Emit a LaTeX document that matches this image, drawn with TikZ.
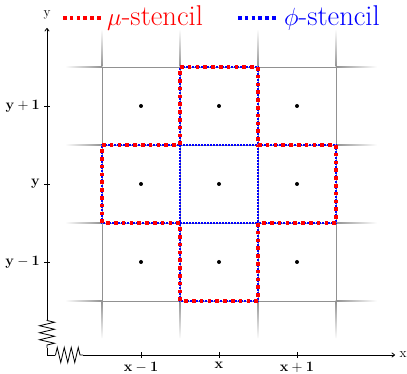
\documentclass[tikz,border=0pt]{standalone}
\usetikzlibrary{decorations.pathmorphing,arrows.meta}
\definecolor{gridgray}{RGB}{145,145,145}
\begin{document}
\begin{tikzpicture}[x=1pt,y=1pt,
  gridline/.style={draw=gridgray,line width=0.8pt},
  mustencil/.style={draw=red,line width=3.6pt,dash pattern=on 3.6pt off 4.2pt},
  phistencil/.style={draw=blue,line width=1.6pt,dash pattern=on 1.6pt off 1.4pt},
  legmu/.style={draw=red,line width=3.8pt,dash pattern=on 3.6pt off 3.2pt},
  legphi/.style={draw=blue,line width=3.8pt,dash pattern=on 3.6pt off 3.2pt},
  axisline/.style={draw=black,line width=0.8pt},
  spring/.style={axisline,decorate,decoration={zigzag,segment length=7pt,amplitude=7.5pt,pre length=0.5pt,post length=0.5pt}},
  ticklabel/.style={inner sep=0pt,font=\fontsize{13.5}{16}\selectfont},
  axislabel/.style={inner sep=0pt,font=\fontsize{13.5}{16}\selectfont},
  legendtext/.style={inner sep=0pt,font=\fontsize{28.6}{32}\selectfont},
  gdot/.style={circle,fill=black,inner sep=0pt,minimum size=4pt}]
\useasboundingbox (0,0) rectangle (407,374);
% faded grid extensions
\foreach \gx in {102,180,258,336}{
  \shade[bottom color=gridgray,top color=white] (\gx-0.4,307) rectangle (\gx+0.4,345);
  \shade[top color=gridgray,bottom color=white] (\gx-0.4,35) rectangle (\gx+0.4,73);
}
\foreach \gy in {73,151,229,307}{
  \shade[left color=white,right color=gridgray] (65,\gy-0.4) rectangle (102,\gy+0.4);
  \shade[left color=gridgray,right color=white] (336,\gy-0.4) rectangle (377,\gy+0.4);
}
% grid
\foreach \gx in {102,180,258,336}{\draw[gridline] (\gx,73) -- (\gx,307);}
\foreach \gy in {73,151,229,307}{\draw[gridline] (102,\gy) -- (336,\gy);}
% dots
\foreach \dx/\i in {141/a,219/b,297/c}{
  \foreach \dy/\j in {268/1,190/2,112/3}{
    \node[gdot] (d\i\j) at (\dx,\dy) {};
  }
}
% stencils
\coordinate (s1) at (180,307); \coordinate (s2) at (258,307);
\coordinate (s3) at (258,229); \coordinate (s4) at (336,229);
\coordinate (s5) at (336,151); \coordinate (s6) at (258,151);
\coordinate (s7) at (258,73);  \coordinate (s8) at (180,73);
\coordinate (s9) at (180,151); \coordinate (s10) at (102,151);
\coordinate (s11) at (102,229); \coordinate (s12) at (180,229);
\draw[phistencil] (s1)--(s2)--(s3)--(s4)--(s5)--(s6)--(s7)--(s8)--(s9)--(s10)--(s11)--(s12)--cycle;
\draw[phistencil] (s12)--(s3) (s9)--(s6) (s12)--(s9) (s3)--(s6);
\draw[mustencil] (s1)--(s2)--(s3)--(s4)--(s5)--(s6)--(s7)--(s8)--(s9)--(s10)--(s11)--(s12)--cycle;
% axes
\coordinate (ytop) at (47,346);
\coordinate (ys1) at (47,54);
\coordinate (ys2) at (47,26);
\coordinate (corner) at (47,19);
\coordinate (xs1) at (55,19);
\coordinate (xs2) at (83,19);
\coordinate (xend) at (395,19);
\draw[axisline,-{To[length=3.5pt,width=5pt]}] (ys1) -- (ytop);
\draw[spring] (ys1) -- (ys2);
\draw[axisline] (ys2) -- (corner) -- (xs1);
\draw[spring] (xs1) -- (xs2);
\draw[axisline,-{To[length=3.5pt,width=5pt]}] (xs2) -- (xend);
\node[axislabel] (ylab) at (47,359) {y};
\node[axislabel] (xlab) at (403,19) {x};
% ticks
\foreach \tx/\tl/\n in {141/{\mathbf{x-1}}/xa,219/{\mathbf{x}}/xb,297/{\mathbf{x+1}}/xc}{
  \draw[axisline] (\tx,16) -- (\tx,22);
  \node[ticklabel,anchor=north] (\n) at (\tx,12) {$\tl$};
}
\foreach \ty/\tl/\n in {268/{\mathbf{y+1}}/ya,190/{\mathbf{y}}/yb,112/{\mathbf{y-1}}/yc}{
  \draw[axisline] (44,\ty) -- (50,\ty);
  \node[ticklabel,anchor=east] (\n) at (40,\ty) {$\tl$};
}
% legend
\coordinate (lm1) at (63,356); \coordinate (lm2) at (101,356);
\coordinate (lp1) at (238,356); \coordinate (lp2) at (277,356);
\draw[legmu] (lm1) -- (lm2);
\node[legendtext,text=red,anchor=base west] (mutext) at (107,348) {$\mu$-stencil};
\draw[legphi] (lp1) -- (lp2);
\node[legendtext,text=blue,anchor=base west] (phitext) at (284,348) {$\phi$-stencil};
\end{tikzpicture}
\end{document}
